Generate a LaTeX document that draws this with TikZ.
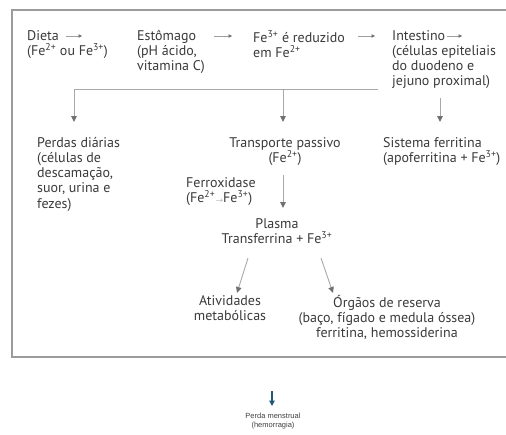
\documentclass[tikz,border=0pt]{standalone}
\usepackage{fontspec}
\setmainfont{PT Sans}
\newfontfamily\smallsans{Liberation Sans}
\usetikzlibrary{arrows.meta}
\definecolor{txt}{HTML}{3A3A3A}
\definecolor{ln}{HTML}{A8A8A8}
\definecolor{tipc}{HTML}{707070}
\definecolor{frm}{HTML}{9C9C9C}
\definecolor{blu}{HTML}{1E5878}
\newcommand{\firstln}{\rule{0pt}{10pt}}
\begin{document}
\begin{tikzpicture}[x=1pt,y=-1pt,
  lbl/.style={font=\fontsize{14}{15.2}\selectfont, text=txt, inner sep=0pt, align=left, anchor=north west},
  clbl/.style={lbl, align=center, anchor=north},
  conn/.style={draw=ln, line width=0.9pt},
  arr/.style={conn, -{Triangle[width=5.5pt,length=6pt,color=tipc]}},
  smallarr/.style={draw=gray!75, line width=0.6pt, -{Triangle[width=3.5pt,length=3.5pt,color=gray!90!black]}},
  frame/.style={draw=frm, line width=1.6pt},
  bluearr/.style={draw=blu, line width=1.2pt, -{Triangle[width=5.5pt,length=5.5pt]}}]
\useasboundingbox (0,0) rectangle (506,434);
\draw[frame] (506,10) -- (12,10) -- (12,357) -- (506,357);

% top row (first baseline at 40 -> top at 30)
\node[lbl] (dieta) at (27,30) {\firstln Dieta\\(Fe\textsuperscript{2+} ou Fe\textsuperscript{3+})};
\node[lbl] (estomago) at (137,30) {\firstln Estômago\\(pH ácido,\\vitamina C)};
\node[lbl] (reduz) at (253,30) {\firstln Fe\textsuperscript{3+} é reduzido\\em Fe\textsuperscript{2+}};
\node[lbl] (intestino) at (392,30) {\firstln Intestino\\(células epiteliais\\do duodeno e\\jejuno proximal)};

\coordinate (a1s) at (66,36);  \coordinate (a1e) at (82,36);
\coordinate (a2s) at (214,36); \coordinate (a2e) at (232,36);
\coordinate (a3s) at (358,36); \coordinate (a3e) at (375,36);
\coordinate (a4s) at (447,36); \coordinate (a4e) at (462,36);
\draw[smallarr] (a1s) -- (a1e);
\draw[smallarr] (a2s) -- (a2e);
\draw[smallarr] (a3s) -- (a3e);
\draw[smallarr] (a4s) -- (a4e);

% second row
\node[lbl] (perdas) at (37,137) {\firstln Perdas diárias\\(células de\\descamação,\\suor, urina e\\fezes)};
\node[clbl] (transp) at (285,137) {\firstln Transporte passivo\\(Fe\textsuperscript{2+})};
\node[lbl] (sistema) at (383,137) {\firstln Sistema ferritina\\(apoferritina + Fe\textsuperscript{3+})};
\node[lbl] (ferrox) at (186,177) {\firstln Ferroxidase\\(Fe\textsuperscript{2+}{\color{gray}$\scriptscriptstyle\rightarrow$}Fe\textsuperscript{3+})};
\node[clbl] (plasma) at (277,218) {\firstln Plasma\\Transferrina + Fe\textsuperscript{3+}};
\node[clbl] (ativ) at (230,295) {\firstln Atividades\\metabólicas};
\node[clbl] (orgaos) at (387,295) {\firstln Órgãos de reserva\\(baço, fígado e medula óssea)\\ferritina, hemossiderina};

% connectors
\coordinate (jl) at (74,89);
\coordinate (jm) at (283,89);
\coordinate (jr) at (378,89);
\coordinate (tl) at (74,122);
\coordinate (tm) at (283,122);
\coordinate (ir) at (440,98);
\coordinate (tr) at (440,122);
\coordinate (ps) at (283,175);
\coordinate (pt) at (283,208);
\coordinate (la) at (248,258);
\coordinate (lb) at (237,293);
\coordinate (ra) at (321,258);
\coordinate (rb) at (333,293);
\draw[conn] (jl) -- (jr);
\draw[arr] (jl) -- (tl);
\draw[arr] (jm) -- (tm);
\draw[arr] (ir) -- (tr);
\draw[arr] (ps) -- (pt);
\draw[arr] (la) -- (lb);
\draw[arr] (ra) -- (rb);

% bottom
\node[font=\smallsans\fontsize{7.5}{8.5}\selectfont, text=black!75, align=center, anchor=north, inner sep=0pt] (perda) at (273,413) {Perda menstrual\\(hemorragia)};
\coordinate (b1) at (272,391);
\coordinate (b2) at (272,406);
\draw[bluearr] (b1) -- (b2);
\end{tikzpicture}
\end{document}
